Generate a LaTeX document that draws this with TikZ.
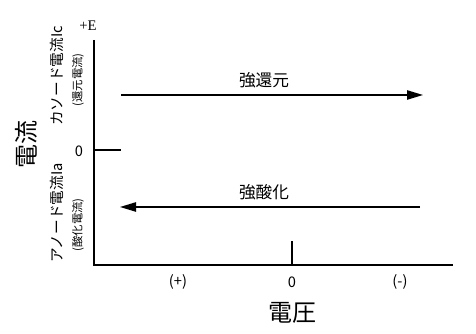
\documentclass[tikz,border=0pt]{standalone}
\usepackage{fontspec}
\usepackage{xcolor}
\setmainfont{Liberation Serif}
\newfontfamily\jp{Noto Sans CJK JP}
\usetikzlibrary{positioning,arrows.meta}

\begin{document}
\begin{tikzpicture}[
  x=0.75pt, y=-0.75pt,
  axis/.style={line width=0.8pt},
  arr/.style={-{Triangle[length=12pt,width=7pt]}, line width=1pt},
  lbl/.style={font=\jp\fontsize{12.5}{14}\selectfont, inner sep=0pt},
  tick/.style={font=\jp\fontsize{11}{13}\selectfont, inner sep=0pt},
  side/.style={font=\jp\fontsize{11}{13}\selectfont, inner sep=0pt, rotate=90},
  sub/.style={font=\jp\fontsize{8.5}{10}\selectfont, inner sep=0pt, rotate=90}
]
  \useasboundingbox (0,0) rectangle (476,334);

  % axes
  \coordinate (top) at (94,40);
  \coordinate (origin) at (94,265);
  \coordinate (xend) at (453,265);
  \coordinate (zero) at (94,150);
  \coordinate (zerotick) at (121,150);
  \coordinate (vzero) at (292,265);
  \coordinate (vtick) at (292,241);
  \draw[axis] (top) -- (origin) -- (xend);
  \draw[axis] (zero) -- (zerotick);
  \draw[axis] (vzero) -- (vtick);

  % arrows
  \coordinate (redL) at (121,95);
  \coordinate (redR) at (423,95);
  \coordinate (oxR) at (420,207);
  \coordinate (oxL) at (120,207);
  \draw[arr] (redL) -- (redR);
  \draw[arr] (oxR) -- (oxL);
  \node[lbl] (red) at (264,80) {強還元};
  \node[lbl] (ox) at (264,192) {強酸化};

  % labels
  \node[font=\fontsize{11}{13}\selectfont, inner sep=0pt] (plusE) at (88,26) {+E};
  \node[tick] (yzero) at (79,151) {0};
  \node[tick] (plus) at (178,282) {(+)};
  \node[tick] (xzero) at (292,282) {0};
  \node[tick] (minus) at (400,282) {(-)};
  \node[font=\jp\fontsize{18}{20}\selectfont, inner sep=0pt] (volt) at (292,313) {電圧};
  \node[font=\jp\fontsize{18}{20}\selectfont, inner sep=0pt, rotate=90] (curr) at (26,145) {電流};
  \node[side] (cath) at (57,76) {カソード電流Ic};
  \node[sub] (cathsub) at (78,80) {(還元電流)};
  \node[side] (anod) at (57,213) {アノード電流Ia};
  \node[sub] (anodsub) at (78,225) {(酸化電流)};
\end{tikzpicture}
\end{document}
